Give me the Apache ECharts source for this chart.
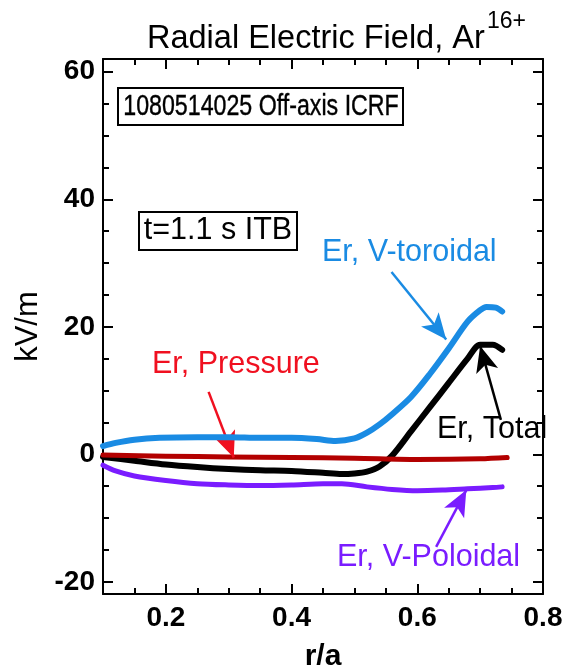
<!DOCTYPE html>
<html><head><meta charset="utf-8">
<script src="https://cdn.jsdelivr.net/npm/echarts@6/dist/echarts.min.js"></script>
<style>html,body{margin:0;padding:0;background:#fff}#c{width:567px;height:672px}</style>
</head><body><div id="c"></div>
<script>
// ---- data ----
const torX = [0.10,0.12,0.15,0.19,0.25,0.30,0.35,0.40,0.44,0.47,0.50,0.52,0.54,0.56,0.59,0.62,0.65,0.68,0.70,0.71,0.725,0.735];
const torY = [1.3,1.8,2.3,2.6,2.7,2.7,2.6,2.6,2.4,2.1,2.5,3.4,4.7,6.3,9.0,12.6,16.6,20.8,22.6,23.1,23.0,22.4];
const totX = [0.10,0.15,0.20,0.25,0.30,0.35,0.40,0.45,0.48,0.50,0.52,0.54,0.56,0.59,0.62,0.65,0.68,0.70,0.72,0.735];
const totY = [-0.4,-1.0,-1.6,-2.0,-2.3,-2.5,-2.6,-2.9,-3.1,-3.0,-2.7,-1.9,-0.2,3.6,7.4,11.2,15.0,17.2,17.2,16.4];
const preX = [0.10,0.20,0.30,0.40,0.50,0.60,0.70,0.743];
const preY = [-0.1,-0.3,-0.4,-0.5,-0.6,-0.8,-0.7,-0.5];
const polX = [0.10,0.12,0.15,0.20,0.25,0.30,0.35,0.40,0.45,0.48,0.52,0.56,0.60,0.64,0.68,0.72,0.735];
const polY = [-1.7,-2.6,-3.4,-4.1,-4.6,-4.8,-4.9,-4.8,-4.6,-4.6,-5.1,-5.5,-5.7,-5.6,-5.4,-5.2,-5.1];
const xMajor = [0.2,0.4,0.6,0.8];
const xMinor = [0.15,0.25,0.3,0.35,0.45,0.5,0.55,0.65,0.7,0.75];
const yMajor = [-20,0,20,40,60];
const yMinor = [-15,-10,-5,5,10,15,25,30,35,45,50,55];
// arrows: [fromX, fromY, toX, toY]
const arrTor = [0.559,28.6,0.646,18.0];
const arrTot = [0.733,5.4,0.700,17.0];
const arrPre = [0.268,9.8,0.308,-0.5];
const arrPol = [0.630,-14.5,0.678,-5.6];

const F = '"Liberation Sans", Arial, Helvetica, sans-serif';
const XMIN=0.1, XMAX=0.8, YMIN=-21.9, YMAX=62;
const BLUE='#1a8be3', RED='#b30000', REDT='#f01020', PURP='#7a1cff', BLK='#000';

function pairs(xs, ys){ return xs.map((x,i)=>[x, ys[i]]); }

function xAx(pos, vals, len, line, labels){
  return {type:'value', position:pos, min:XMIN, max:XMAX, gridIndex:0,
    axisLine:{show:line, onZero:false, lineStyle:{color:BLK,width:2}},
    axisTick:{show:true, inside:true, length:len, customValues:vals, lineStyle:{color:BLK,width:2}},
    axisLabel:labels ? {show:true, customValues:vals, fontFamily:F, fontSize:28, fontWeight:'bold', color:BLK, margin:10, formatter:v=>v.toFixed(1)} : {show:false},
    splitLine:{show:false}};
}
function yAx(pos, vals, len, line, labels){
  return {type:'value', position:pos, min:YMIN, max:YMAX, gridIndex:0,
    axisLine:{show:line, onZero:false, lineStyle:{color:BLK,width:2}},
    axisTick:{show:true, inside:true, length:len, customValues:vals, lineStyle:{color:BLK,width:2}},
    axisLabel:labels ? {show:true, customValues:vals, fontFamily:F, fontSize:28, fontWeight:'bold', color:BLK, margin:8} : {show:false},
    splitLine:{show:false}};
}

const xa0 = xAx('bottom', xMajor, 10, true, true);
xa0.name='r/a'; xa0.nameLocation='middle'; xa0.nameGap=48;
xa0.nameTextStyle={fontFamily:F, fontSize:30, fontWeight:'bold', color:BLK};
const ya0 = yAx('left', yMajor, 10, true, true);
ya0.name='kV/m'; ya0.nameLocation='middle'; ya0.nameGap=50;
ya0.nameTextStyle={fontFamily:F, fontSize:31, color:BLK};

function arrow(a, color){
  return {silent:true, symbol:['none','arrow'], symbolSize:[17,26], label:{show:false},
    lineStyle:{color:color, width:2.5, type:'solid'}, animation:false,
    data:[[{coord:[a[0],a[1]]},{coord:[a[2],a[3]]}]]};
}
function line(name, xs, ys, color, w, z, arr){
  const s = {name, type:'line', xAxisIndex:0, yAxisIndex:0, data:pairs(xs,ys), smooth:0.3,
    showSymbol:false, symbol:'none', z, lineStyle:{color, width:w, cap:'round', join:'round'}, itemStyle:{color}};
  if(arr) s.markLine = arrow(arr[0], arr[1]);
  return s;
}

const chart = echarts.init(document.getElementById('c'), null, {renderer:'canvas'});
chart.setOption({
  animation:false,
  backgroundColor:'#fff',
  grid:{left:103, right:24, top:59, bottom:78, containLabel:false, outerBoundsMode:'none'},
  xAxis:[xa0, xAx('bottom', xMinor, 6, false, false), xAx('top', xMajor, 10, true, false), xAx('top', xMinor, 6, false, false)],
  yAxis:[ya0, yAx('left', yMinor, 6, false, false), yAx('right', yMajor, 10, true, false), yAx('right', yMinor, 6, false, false)],
  series:[
    line('Er, V-Poloidal', polX, polY, PURP, 5, 2, [arrPol, PURP]),
    line('Er, Total', totX, totY, BLK, 6, 3, [arrTot, BLK]),
    line('Er, Pressure', preX, preY, RED, 5, 4, [arrPre, REDT]),
    line('Er, V-toroidal', torX, torY, BLUE, 6, 5, [arrTor, BLUE])
  ],
  graphic:[
    {type:'text', x:147, y:39, style:{text:'Radial Electric Field, Ar', font:'32.5px '+F, fill:BLK, align:'left', verticalAlign:'middle'}},
    {type:'text', x:487, y:22, style:{text:'16+', font:'23px '+F, fill:BLK, align:'left', verticalAlign:'middle'}},
    {type:'rect', shape:{x:118, y:88, width:285, height:37}, style:{fill:'#fff', stroke:BLK, lineWidth:2}, z:10},
    {type:'text', x:261, y:107, scaleX:0.8, z:11, style:{text:'1080514025 Off-axis ICRF', font:'29px '+F, fill:BLK, stroke:BLK, lineWidth:0.4, align:'center', verticalAlign:'middle'}},
    {type:'rect', shape:{x:139, y:212, width:158, height:38}, style:{fill:'#fff', stroke:BLK, lineWidth:2}, z:10},
    {type:'text', x:218, y:231, z:11, style:{text:'t=1.1 s ITB', font:'30.5px '+F, fill:BLK, align:'center', verticalAlign:'middle'}},
    {type:'text', x:322, y:253, z:11, style:{text:'Er, V-toroidal', font:'30.5px '+F, fill:BLUE, align:'left', verticalAlign:'middle'}},
    {type:'text', x:152, y:365, z:11, style:{text:'Er, Pressure', font:'30.5px '+F, fill:REDT, align:'left', verticalAlign:'middle'}},
    {type:'text', x:437, y:430, z:11, style:{text:'Er, Total', font:'30.5px '+F, fill:BLK, align:'left', verticalAlign:'middle'}},
    {type:'text', x:337, y:558, z:11, style:{text:'Er, V-Poloidal', font:'30.5px '+F, fill:PURP, align:'left', verticalAlign:'middle'}}
  ]
});
</script></body></html>
